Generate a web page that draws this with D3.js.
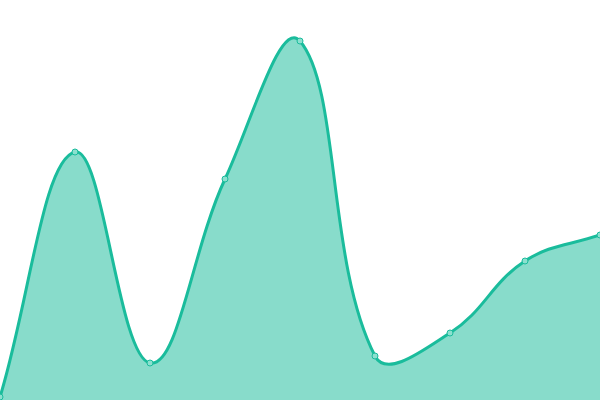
<!DOCTYPE html>
<html>
<head>
<meta charset="utf-8">
<script src="https://cdn.jsdelivr.net/npm/d3@7"></script>
<style>
  html, body { margin: 0; padding: 0; background: #fff; }
  svg { display: block; }
</style>
</head>
<body>
<svg id="chart" width="600" height="400"></svg>
<script>
// values
const categories = ["1", "2", "3", "4", "5", "6", "7", "8", "9"];
const values = [3, 248, 37, 221, 359, 44, 67, 139, 165];

const width = 600, height = 400;
const svg = d3.select("#chart");

// spline where each control point is scaled by the length of its segment
function SplineCurve(context, t) {
    this._context = context;
    this._t = t;
}
SplineCurve.prototype = {
    areaStart() { this._line = 0; },
    areaEnd() { this._line = NaN; },
    lineStart() { this._x = []; this._y = []; },
    point(x, y) { this._x.push(+x); this._y.push(+y); },
    lineEnd() {
        const xs = this._x, ys = this._y, n = xs.length, c = this._context, t = this._t;
        if (n) {
            this._line ? c.lineTo(xs[0], ys[0]) : c.moveTo(xs[0], ys[0]);
            const cpPrev = [], cpNext = [];
            for (let i = 0; i < n; i++) {
                const ip = Math.max(i - 1, 0), inx = Math.min(i + 1, n - 1);
                const d01 = Math.hypot(xs[i] - xs[ip], ys[i] - ys[ip]);
                const d12 = Math.hypot(xs[inx] - xs[i], ys[inx] - ys[i]);
                const s = (d01 + d12) || 1;
                const vx = xs[inx] - xs[ip], vy = ys[inx] - ys[ip];
                cpPrev[i] = [xs[i] - vx * t * d01 / s, ys[i] - vy * t * d01 / s];
                cpNext[i] = [xs[i] + vx * t * d12 / s, ys[i] + vy * t * d12 / s];
            }
            for (let i = 1; i < n; i++) {
                c.bezierCurveTo(cpNext[i - 1][0], cpNext[i - 1][1], cpPrev[i][0], cpPrev[i][1], xs[i], ys[i]);
            }
        }
        if (this._line || (this._line !== 0 && n === 1)) c.closePath();
        this._line = 1 - this._line;
    }
};
const curve = context => new SplineCurve(context, 0.4);

const x = d3.scalePoint()
    .domain(categories)
    .range([0, width]);

const y = d3.scaleLinear()
    .domain([0, 400])
    .range([height, 0]);

const data = categories.map((c, i) => ({ c: c, v: values[i] }));

const area = d3.area()
    .x(d => x(d.c))
    .y0(y(0))
    .y1(d => y(d.v))
    .curve(curve);

const line = d3.line()
    .x(d => x(d.c))
    .y(d => y(d.v))
    .curve(curve);

svg.append("path")
    .datum(data)
    .attr("d", area)
    .attr("fill", "#1abc9c")
    .attr("fill-opacity", 0.52);

svg.append("path")
    .datum(data)
    .attr("d", line)
    .attr("fill", "none")
    .attr("stroke", "#1abc9c")
    .attr("stroke-width", 3);

svg.selectAll("circle")
    .data(data)
    .enter()
    .append("circle")
    .attr("cx", d => x(d.c))
    .attr("cy", d => y(d.v))
    .attr("r", 3)
    .attr("fill", "#8ce0cf")
    .attr("stroke", "#1abc9c")
    .attr("stroke-width", 1);
</script>
</body>
</html>
